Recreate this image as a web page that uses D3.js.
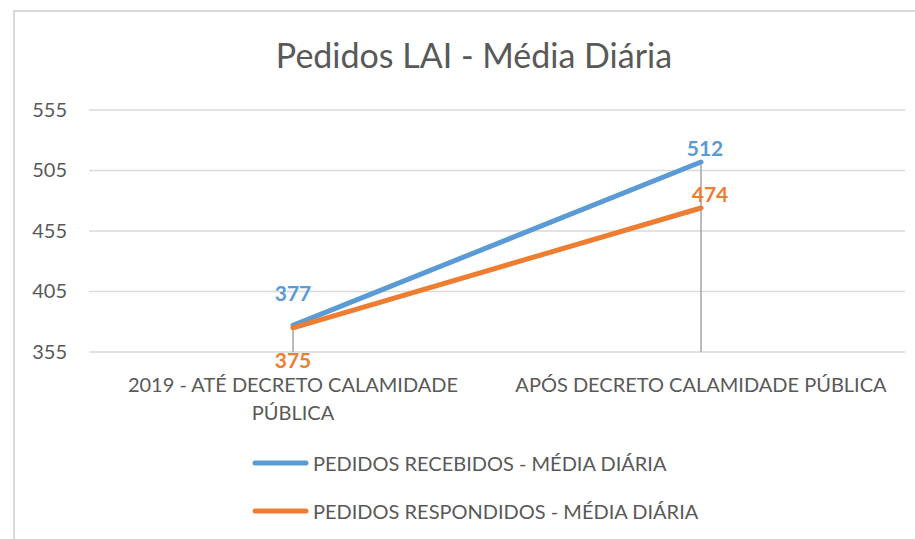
<!DOCTYPE html>
<html>
<head>
<meta charset="utf-8">
<script src="https://cdn.jsdelivr.net/npm/d3@7"></script>
<style>
  body { margin: 0; background: #fff; }
  text { font-family: Lato, "Open Sans", sans-serif; fill: #595959; }
</style>
</head>
<body>
<script>
const width = 915;
const height = 539;

// ---------------- data ----------------
const categories = ["2019 - ATÉ DECRETO CALAMIDADE PÚBLICA", "APÓS DECRETO CALAMIDADE PÚBLICA"];
const categoryLines = [["2019 - ATÉ DECRETO CALAMIDADE", "PÚBLICA"], ["APÓS DECRETO CALAMIDADE PÚBLICA"]];
const recebidos = [377, 512];
const respondidos = [375, 474];
const seriesNames = ["PEDIDOS RECEBIDOS - MÉDIA DIÁRIA", "PEDIDOS RESPONDIDOS - MÉDIA DIÁRIA"];
const yTicks = [355, 405, 455, 505, 555];
const title = "Pedidos LAI - Média Diária";

const colors = ["#5b9bd5", "#ed7d31"];
const series = [recebidos, respondidos].map((v, i) => ({ name: seriesNames[i], values: v, color: colors[i] }));

const svg = d3.select("body").append("svg")
  .attr("width", width).attr("height", height);

// chart border
svg.append("rect")
  .attr("x", 14).attr("y", 11).attr("width", width).attr("height", height)
  .attr("fill", "none").attr("stroke", "#d9d9d9").attr("stroke-width", 2);

// title
svg.append("text")
  .attr("x", 474).attr("y", 68)
  .attr("text-anchor", "middle")
  .style("font-size", "34px")
  .text(title);

//----------------------------SCALES-----------------------------//
const x = d3.scaleBand().domain(categories).range([89, 905]);
const y = d3.scaleLinear().domain([355, 555]).range([352, 110]);
const cx = c => x(c) + x.bandwidth() / 2;

// gridlines
svg.append("g").selectAll("line").data(yTicks).enter().append("line")
  .attr("x1", 89).attr("x2", 905)
  .attr("y1", d => y(d)).attr("y2", d => y(d))
  .attr("stroke", "#d9d9d9").attr("stroke-width", 1.5);

// y axis labels
const yaxis = d3.axisLeft(y).tickValues(yTicks).tickSize(0).tickPadding(22);
const gy = svg.append("g").attr("transform", "translate(89,0)").call(yaxis);
gy.select(".domain").remove();
gy.selectAll("text").style("font-size", "20px").attr("fill", "#595959");

// x category labels
const gx = svg.append("g");
categories.forEach((c, i) => {
  const t = gx.append("text").attr("text-anchor", "middle").style("font-size", "20px");
  categoryLines[i].forEach((ln, j) => {
    t.append("tspan").attr("x", cx(c)).attr("y", 392 + j * 28).text(ln);
  });
});

// drop lines
svg.append("g").selectAll("line").data(categories).enter().append("line")
  .attr("x1", d => cx(d)).attr("x2", d => cx(d))
  .attr("y1", (d, i) => y(d3.max(series, s => s.values[i])))
  .attr("y2", y(355))
  .attr("stroke", "#a5a5a5").attr("stroke-width", 1.5);

//----------------------------LINES------------------------------//
const line = d3.line()
  .x((d, i) => cx(categories[i]))
  .y(d => y(d));

svg.append("g").selectAll("path").data(series).enter().append("path")
  .attr("d", d => line(d.values))
  .attr("fill", "none")
  .attr("stroke", d => d.color)
  .attr("stroke-width", 5)
  .attr("stroke-linecap", "round");

// data labels: when the two points are close, higher label goes up, lower goes below
series.forEach((s, si) => {
  s.values.forEach((v, i) => {
    const other = series[1 - si].values[i];
    const close = Math.abs(y(v) - y(other)) < 20;
    let ly, dx = 0;
    if (close) ly = v < other ? y(v) + 40 : y(v) - 24;
    else { ly = y(v) - 6; dx = si === 1 ? 9 : 4; }
    svg.append("text")
      .attr("x", cx(categories[i]) + dx)
      .attr("y", ly)
      .attr("text-anchor", "middle")
      .style("font-size", "21px").style("font-weight", "bold")
      .style("fill", s.color)
      .text(v);
  });
});

//----------------------------LEGEND------------------------------//
const legend = svg.append("g").selectAll("g").data(series).enter().append("g")
  .attr("transform", (d, i) => "translate(0," + (463 + i * 48) + ")");
legend.append("line")
  .attr("x1", 255).attr("x2", 306)
  .attr("stroke", d => d.color).attr("stroke-width", 5).attr("stroke-linecap", "round");
legend.append("text")
  .attr("x", 313).attr("y", 8)
  .style("font-size", "20px")
  .text(d => d.name);
</script>
</body>
</html>
